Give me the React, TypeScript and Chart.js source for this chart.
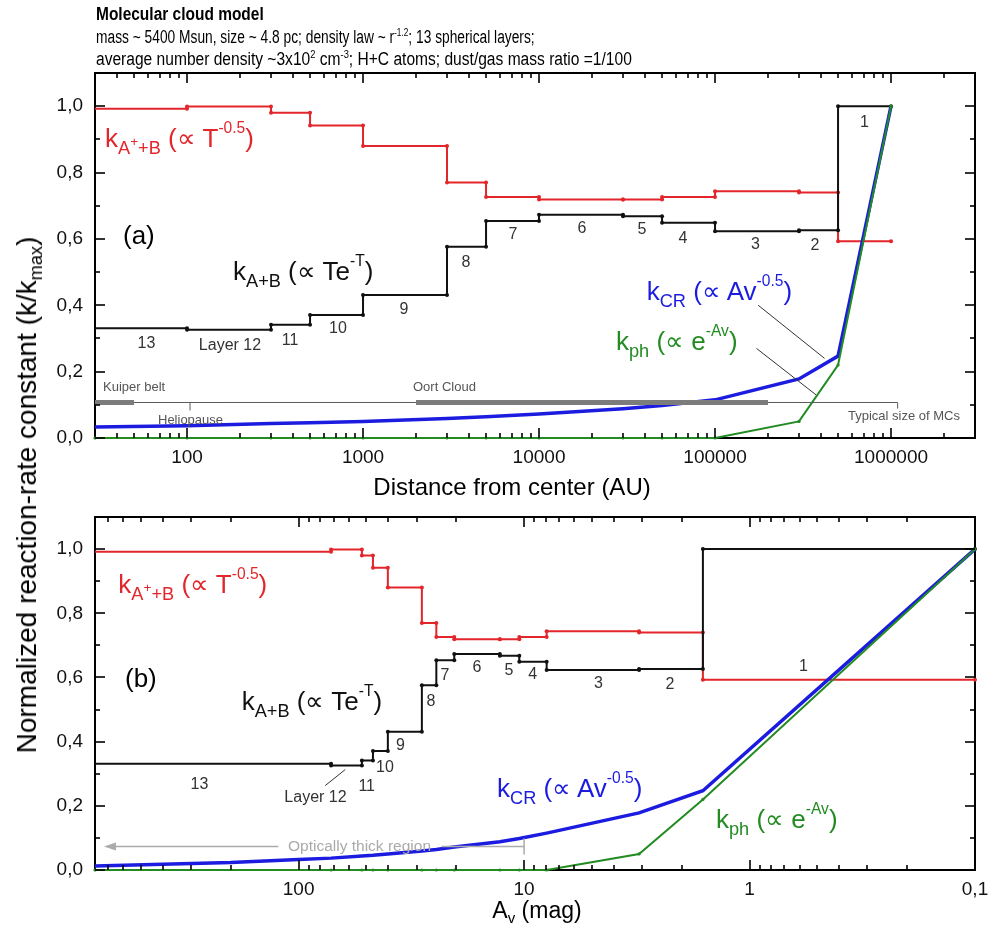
import React, { useEffect, useRef } from 'react';
import { Chart, registerables } from 'chart.js';

Chart.register(...registerables);

// ---------- data ----------
// layer boundaries (layer 13 -> layer 1); first value = inner plot edge
const boundsAU = [30, 100, 300, 500, 1000, 3000, 5000, 10000, 30000, 50000, 100000, 300000, 500000, 1000000];
const boundsAv = [800, 71.8, 52.4, 46.8, 40.2, 28.4, 24.5, 20.4, 12.8, 10.5, 7.94, 3.09, 1.61, 0.1];
const layerNames = ['13', 'Layer 12', '11', '10', '9', '8', '7', '6', '5', '4', '3', '2', '1'];
// per-layer values (layer 13 -> layer 1)
const kAB = [0.331, 0.326, 0.341, 0.371, 0.431, 0.576, 0.654, 0.673, 0.668, 0.649, 0.623, 0.626, 1.0];
const kAplusB = [0.992, 0.999, 0.98, 0.942, 0.88, 0.77, 0.726, 0.719, 0.719, 0.726, 0.744, 0.74, 0.593];
// k_CR at boundaries 1..13
const kCR = [0.037, 0.044, 0.046, 0.05, 0.059, 0.064, 0.072, 0.088, 0.098, 0.115, 0.178, 0.247, 1.0];
const kCRInnerAU = [30];
const kCRInnerAUVal = [0.033];
const kCRInnerAv = [800, 400, 200, 100];
const kCRInnerAvVal = [0.0125, 0.018, 0.023, 0.033];
// k_ph at boundaries 0..13
const kph = [0, 0, 0, 0, 0, 0, 0, 0, 0, 0, 0, 0.05, 0.22, 1.0];

// ticks
const yMajor = [0, 0.2, 0.4, 0.6, 0.8, 1.0];
const yMinor = [0.1, 0.3, 0.5, 0.7, 0.9];
const xTicksTop = [100, 1000, 10000, 100000, 1000000];
const xTicksBottom = [0.1, 1, 10, 100];

// annotations (data coordinates)
const refLevelTop = 0.107;
const kuiperAU = [30, 50];
const oortAU = [2000, 200000];
const heliopauseAU = 104;
const mcSizeAU = 1.09e6;
const leaderCR = [176000, 0.4, 419000, 0.24];
const leaderPh = [172000, 0.27, 375000, 0.13];
const thickLevel = 0.073;
const thickAv = [10, 730];
const thickGap = [23.2, 123];
const leaderL12 = [76.2, 0.263, 62.1, 0.313];

// ---------- style ----------
const FONT = "'Liberation Sans', Arial, Helvetica, sans-serif";
const RED = '#e3262b';
const BLACK = '#111111';
const BLUE = '#1c1ce0';
const GREEN = '#228b22';

function stepPoints(xs: number[], vals: number[]) {
  const pts: { x: number; y: number }[] = [];
  for (let i = 0; i < vals.length; i++) {
    pts.push({ x: xs[i], y: vals[i] });
    pts.push({ x: xs[i + 1], y: vals[i] });
  }
  return pts;
}

function logMinor(min: number, max: number) {
  const out: number[] = [];
  for (let e = Math.floor(Math.log10(min)); e <= Math.ceil(Math.log10(max)); e++) {
    for (let m = 2; m <= 9; m++) {
      const v = m * Math.pow(10, e);
      if (v > min * 1.0001 && v < max * 0.9999) out.push(v);
    }
  }
  return out;
}

function drawSeg(ctx: CanvasRenderingContext2D, x1: number, y1: number, x2: number, y2: number) {
  ctx.beginPath();
  ctx.moveTo(x1, y1);
  ctx.lineTo(x2, y2);
  ctx.stroke();
}

function framePlugin(xMajor: number[], xMinor: number[]) {
  return {
    id: 'frameBox',
    beforeDatasetsDraw(chart: any) {
      const ctx: CanvasRenderingContext2D = chart.ctx;
      const ca = chart.chartArea;
      ctx.save();
      ctx.strokeStyle = '#000';
      ctx.lineWidth = 2;
      ctx.strokeRect(ca.left, ca.top, ca.right - ca.left, ca.bottom - ca.top);
      ctx.restore();
    },
    afterDraw(chart: any) {
      const ctx: CanvasRenderingContext2D = chart.ctx;
      const ca = chart.chartArea;
      const xs = chart.scales.x;
      const ys = chart.scales.y;
      ctx.save();
      ctx.strokeStyle = '#000';
      ctx.lineWidth = 1.6;
      for (const v of xMajor) {
        const p = Math.round(xs.getPixelForValue(v));
        drawSeg(ctx, p, ca.bottom, p, ca.bottom - 10);
        drawSeg(ctx, p, ca.top, p, ca.top + 10);
      }
      for (const v of xMinor) {
        const p = Math.round(xs.getPixelForValue(v));
        drawSeg(ctx, p, ca.bottom, p, ca.bottom - 5);
        drawSeg(ctx, p, ca.top, p, ca.top + 5);
      }
      for (const v of yMajor) {
        const p = Math.round(ys.getPixelForValue(v));
        drawSeg(ctx, ca.left, p, ca.left + 10, p);
        drawSeg(ctx, ca.right, p, ca.right - 10, p);
      }
      for (const v of yMinor) {
        const p = Math.round(ys.getPixelForValue(v));
        drawSeg(ctx, ca.left, p, ca.left + 5, p);
        drawSeg(ctx, ca.right, p, ca.right - 5, p);
      }
      ctx.restore();
    },
  };
}

const topNotes = {
  id: 'topNotes',
  afterDatasetsDraw(chart: any) {
    const ctx: CanvasRenderingContext2D = chart.ctx;
    const X = (v: number) => chart.scales.x.getPixelForValue(v);
    const Y = (v: number) => chart.scales.y.getPixelForValue(v);
    const yl = Y(refLevelTop);
    ctx.save();
    ctx.strokeStyle = '#5a5a5a';
    ctx.lineWidth = 1;
    drawSeg(ctx, X(kuiperAU[0]), yl, X(mcSizeAU), yl);
    drawSeg(ctx, X(mcSizeAU), yl, X(mcSizeAU), yl + 6);
    drawSeg(ctx, X(heliopauseAU), yl, X(heliopauseAU), yl + 8);
    ctx.strokeStyle = '#7c7c7c';
    ctx.lineWidth = 5;
    drawSeg(ctx, X(kuiperAU[0]), yl, X(kuiperAU[1]), yl);
    drawSeg(ctx, X(oortAU[0]), yl, X(oortAU[1]), yl);
    ctx.strokeStyle = '#333';
    ctx.lineWidth = 1;
    drawSeg(ctx, X(leaderCR[0]), Y(leaderCR[1]), X(leaderCR[2]), Y(leaderCR[3]));
    drawSeg(ctx, X(leaderPh[0]), Y(leaderPh[1]), X(leaderPh[2]), Y(leaderPh[3]));
    ctx.restore();
  },
};

const bottomNotes = {
  id: 'bottomNotes',
  afterDatasetsDraw(chart: any) {
    const ctx: CanvasRenderingContext2D = chart.ctx;
    const X = (v: number) => chart.scales.x.getPixelForValue(v);
    const Y = (v: number) => chart.scales.y.getPixelForValue(v);
    const ya = Y(thickLevel);
    ctx.save();
    ctx.strokeStyle = '#ababab';
    ctx.fillStyle = '#ababab';
    ctx.lineWidth = 1.5;
    drawSeg(ctx, X(thickAv[0]), ya, X(thickGap[0]), ya);
    drawSeg(ctx, X(thickGap[1]), ya, X(thickAv[1]) + 8, ya);
    drawSeg(ctx, X(thickAv[0]), ya - 8, X(thickAv[0]), ya + 8);
    const tip = X(thickAv[1]);
    ctx.beginPath();
    ctx.moveTo(tip, ya);
    ctx.lineTo(tip + 12, ya - 4);
    ctx.lineTo(tip + 12, ya + 4);
    ctx.closePath();
    ctx.fill();
    ctx.strokeStyle = '#333';
    ctx.lineWidth = 1;
    drawSeg(ctx, X(leaderL12[0]), Y(leaderL12[1]), X(leaderL12[2]), Y(leaderL12[3]));
    ctx.restore();
  },
};

function makeConfig(isTop: boolean): any {
  const xs = isTop ? boundsAU : boundsAv;
  const innerX = isTop ? kCRInnerAU : kCRInnerAv;
  const innerV = isTop ? kCRInnerAUVal : kCRInnerAvVal;
  const crData = [
    ...innerX.map((x, i) => ({ x, y: innerV[i] })),
    ...xs.slice(1).map((x, i) => ({ x, y: kCR[i] })),
  ];
  const xMin = isTop ? 30 : 0.1;
  const xMax = isTop ? 3e6 : 800;
  const xTicks = isTop ? xTicksTop : xTicksBottom;
  const hideFirst = (c: any) => (c.dataIndex === 0 ? 0 : 2);
  return {
    type: 'line',
    data: {
      datasets: [
        {
          label: 'k_ph',
          data: xs.map((x, i) => ({ x, y: kph[i] })),
          borderColor: GREEN,
          backgroundColor: GREEN,
          pointBackgroundColor: GREEN,
          borderWidth: 2,
          pointRadius: 1.6,
          pointBorderWidth: 0,
          clip: 4,
        },
        {
          label: 'k_CR',
          data: crData,
          borderColor: BLUE,
          backgroundColor: BLUE,
          borderWidth: 3.5,
          pointRadius: 0,
          clip: 4,
        },
        {
          label: 'k_A+B',
          data: stepPoints(xs, kAB),
          borderColor: BLACK,
          backgroundColor: BLACK,
          pointBackgroundColor: BLACK,
          borderWidth: 2,
          pointRadius: hideFirst,
          pointBorderWidth: 0,
          clip: 4,
        },
        {
          label: 'k_A++B',
          data: stepPoints(xs, kAplusB),
          borderColor: RED,
          backgroundColor: RED,
          pointBackgroundColor: RED,
          borderWidth: 2,
          pointRadius: hideFirst,
          pointBorderWidth: 0,
          clip: 4,
        },
      ],
    },
    options: {
      responsive: false,
      animation: false,
      devicePixelRatio: 1,
      events: [],
      layout: { padding: { left: 0, right: 15, top: isTop ? 73 : 37, bottom: 0 } },
      elements: { line: { tension: 0 } },
      plugins: { legend: { display: false }, tooltip: { enabled: false } },
      scales: {
        x: {
          type: 'logarithmic',
          min: xMin,
          max: xMax,
          reverse: !isTop,
          afterBuildTicks: (s: any) => {
            s.ticks = xTicks.map((v) => ({ value: v }));
          },
          afterFit: (s: any) => {
            s.height = isTop ? 37 : 66;
          },
          grid: { display: false, drawTicks: false },
          border: { display: false },
          ticks: {
            autoSkip: false,
            maxRotation: 0,
            minRotation: 0,
            padding: 8,
            color: '#111',
            font: { family: FONT, size: 19 },
            callback: (v: any) => String(v).replace('.', ','),
          },
        },
        y: {
          type: 'linear',
          min: 0,
          max: 1.1,
          afterBuildTicks: (s: any) => {
            s.ticks = yMajor.map((v) => ({ value: v }));
          },
          afterFit: (s: any) => {
            s.width = 95;
          },
          grid: { display: false, drawTicks: false },
          border: { display: false },
          ticks: {
            padding: 12,
            color: '#111',
            font: { family: FONT, size: 19 },
            callback: (v: any) => Number(v).toFixed(1).replace('.', ','),
          },
        },
      },
    },
    plugins: [framePlugin(xTicks, logMinor(xMin, xMax)), isTop ? topNotes : bottomNotes],
  };
}

// ---------- text helpers ----------
type TP = {
  x: number;
  y: number;
  size: number;
  color?: string;
  anchor?: 'start' | 'middle' | 'end';
  weight?: number;
  sx?: number;
  children: React.ReactNode;
};
function Txt({ x, y, size, color = '#000', anchor = 'start', weight = 400, sx = 1, children }: TP) {
  const tx = anchor === 'middle' ? -50 : anchor === 'end' ? -100 : 0;
  return (
    <div
      style={{
        position: 'absolute',
        left: x,
        top: y - 0.8465 * size,
        fontSize: size,
        lineHeight: 1,
        color,
        fontWeight: weight,
        whiteSpace: 'nowrap',
        transform: `translateX(${tx}%) scaleX(${sx})`,
        transformOrigin: '0 0',
        fontFamily: FONT,
      }}
    >
      {children}
    </div>
  );
}
const Sub = ({ children, s = 0.7, d = 0.38 }: { children: React.ReactNode; s?: number; d?: number }) => (
  <span style={{ fontSize: `${s}em`, position: 'relative', top: `${d}em` }}>{children}</span>
);
const Sup = ({ children, s = 0.6, d = -0.9 }: { children: React.ReactNode; s?: number; d?: number }) => (
  <span style={{ fontSize: `${s}em`, position: 'relative', top: `${d}em` }}>{children}</span>
);

const layerPosTop = [
  [146.5, 343], [230, 345], [290, 340], [338, 328], [404, 309], [466, 262], [513, 234],
  [582, 228], [642, 229], [683, 238], [755.5, 244], [815, 245], [864.5, 122],
];
const layerPosBottom = [
  [199.5, 783.5], [315.5, 797], [366.7, 785.5], [385, 767], [400.5, 745], [431, 701], [445, 675],
  [477, 667], [509, 670], [532.7, 674], [598.5, 683], [670, 684], [803.5, 666],
];

const RedLabel = () => (
  <>
    k<Sub>A<Sup s={0.75} d={-0.55}>+</Sup>+B</Sub> (∝ T<Sup>-0.5</Sup>)
  </>
);
const BlackLabel = () => (
  <>
    k<Sub>A+B</Sub> (∝ Te<Sup>-T</Sup>)
  </>
);
const BlueLabel = () => (
  <>
    k<Sub>CR</Sub> (∝ Av<Sup>-0.5</Sup>)
  </>
);
const GreenLabel = () => (
  <>
    k<Sub>ph</Sub> (∝ e<Sup>-Av</Sup>)
  </>
);

export default function App() {
  const topRef = useRef<HTMLCanvasElement>(null);
  const botRef = useRef<HTMLCanvasElement>(null);

  useEffect(() => {
    const charts = [
      new Chart(topRef.current as HTMLCanvasElement, makeConfig(true)),
      new Chart(botRef.current as HTMLCanvasElement, makeConfig(false)),
    ];
    return () => charts.forEach((c) => c.destroy());
  }, []);

  return (
    <div
      style={{
        position: 'absolute',
        left: 0,
        top: 0,
        width: 990,
        height: 936,
        background: '#fff',
        overflow: 'hidden',
        fontFamily: FONT,
      }}
    >
      <canvas ref={topRef} width={990} height={475} style={{ position: 'absolute', left: 0, top: 0, width: 990, height: 475 }} />
      <canvas ref={botRef} width={990} height={456} style={{ position: 'absolute', left: 0, top: 480, width: 990, height: 456 }} />

      {/* header */}
      <Txt x={96} y={20} size={18} weight={700} sx={0.86}>Molecular cloud model</Txt>
      <Txt x={96} y={43} size={18} sx={0.765}>
        mass ~ 5400 Msun, size ~ 4.8 pc; density law ~ r<Sup s={0.6} d={-0.6}>-1.2</Sup>; 13 spherical layers;
      </Txt>
      <Txt x={96} y={65} size={18} sx={0.865}>
        average number density ~3x10<Sup s={0.6} d={-0.6}>2</Sup> cm<Sup s={0.6} d={-0.6}>-3</Sup>; H+C atoms; dust/gas mass ratio =1/100
      </Txt>

      {/* y title */}
      <div
        style={{
          position: 'absolute',
          left: 27,
          top: 495,
          transform: 'translate(-50%,-50%) rotate(-90deg)',
          fontSize: 28,
          lineHeight: 1,
          whiteSpace: 'nowrap',
          fontFamily: FONT,
          color: '#000',
        }}
      >
        Normalized reaction-rate constant (k/k<Sub s={0.65} d={0.35}>max</Sub>)
      </div>

      {/* axis titles */}
      <Txt x={512} y={495} size={24} anchor="middle">Distance from center (AU)</Txt>
      <Txt x={537} y={918} size={23} anchor="middle">
        A<Sub s={0.65} d={0.35}>v</Sub> (mag)
      </Txt>

      {/* panel (a) */}
      <Txt x={123} y={244.5} size={26}>(a)</Txt>
      <Txt x={105} y={146.7} size={26} color={RED}><RedLabel /></Txt>
      <Txt x={233} y={280} size={26} color={BLACK}><BlackLabel /></Txt>
      <Txt x={646.7} y={300} size={26} color={BLUE}><BlueLabel /></Txt>
      <Txt x={616} y={350} size={26} color={GREEN}><GreenLabel /></Txt>
      <Txt x={103} y={391} size={13} color="#555">Kuiper belt</Txt>
      <Txt x={413} y={391} size={13} color="#555">Oort Cloud</Txt>
      <Txt x={158} y={424.3} size={13} color="#555">Heliopause</Txt>
      <Txt x={960} y={420.3} size={13} color="#555" anchor="end">Typical size of MCs</Txt>
      {layerNames.map((n, i) => (
        <Txt key={'t' + i} x={layerPosTop[i][0]} y={layerPosTop[i][1] + 5.7} size={16} color="#333" anchor="middle">
          {n}
        </Txt>
      ))}

      {/* panel (b) */}
      <Txt x={125} y={687.5} size={26}>(b)</Txt>
      <Txt x={118.3} y={592.7} size={26} color={RED}><RedLabel /></Txt>
      <Txt x={241.7} y={710} size={26} color={BLACK}><BlackLabel /></Txt>
      <Txt x={497} y={796.7} size={26} color={BLUE}><BlueLabel /></Txt>
      <Txt x={716} y={828.3} size={26} color={GREEN}><GreenLabel /></Txt>
      <Txt x={288} y={851} size={15.5} color="#aaa">Optically thick region</Txt>
      {layerNames.map((n, i) => (
        <Txt key={'b' + i} x={layerPosBottom[i][0]} y={layerPosBottom[i][1] + 5.7} size={16} color="#333" anchor="middle">
          {n}
        </Txt>
      ))}
    </div>
  );
}
